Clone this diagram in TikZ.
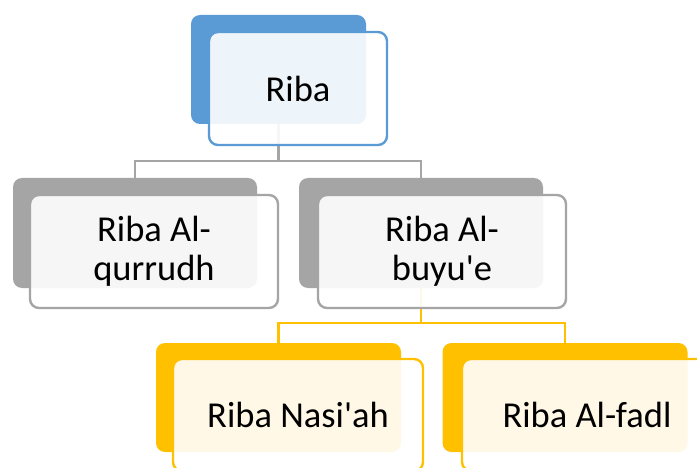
\documentclass[tikz,border=0pt]{standalone}
\usepackage{fontspec}
\setmainfont{Carlito}[Ligatures=TeXOff]
\definecolor{cblue}{HTML}{5B9BD5}
\definecolor{cgray}{HTML}{A5A5A5}
\definecolor{cyel}{HTML}{FFC000}
\tikzset{
  backbox/.style={draw=none, fill=#1, rounded corners=9pt, inner sep=0pt},
  frontbox/.style={draw=#1, line width=2.4pt, fill=white, fill opacity=0.9, draw opacity=1, text opacity=1,
     rounded corners=9pt, inner sep=0pt, align=center, font=\fontsize{36.5}{39}\selectfont},
  conn/.style={draw=#1, line width=2.4pt},
}
\begin{document}
\begin{tikzpicture}[x=1pt,y=-1pt]
\useasboundingbox (0,0) rectangle (697,468);
\fill[white] (0,0) rectangle (697,468);
% back boxes
\node[backbox=cblue, minimum width=175pt, minimum height=109pt] (b1) at (278.5,69.5) {};
\node[backbox=cgray, minimum width=244pt, minimum height=110pt] (b2) at (135,233) {};
\node[backbox=cgray, minimum width=244pt, minimum height=110pt] (b3) at (421,233) {};
\node[backbox=cyel, minimum width=245pt, minimum height=109pt] (b4) at (278.5,397.5) {};
\node[backbox=cyel, minimum width=245pt, minimum height=109pt] (b5) at (565,397.5) {};
% connectors
\coordinate (h1) at (0,161);
\coordinate (h2) at (0,323);
\draw[conn=cgray] (b1.south) -- (b1.south |- h1) -| (b2.north);
\draw[conn=cgray] (b1.south |- h1) -| (b3.north);
\draw[conn=cyel] (b3.south) -- (b3.south |- h2) -| (b4.north);
\draw[conn=cyel] (b3.south |- h2) -| (b5.north);
% front boxes
\node[frontbox=cblue, minimum width=178pt, minimum height=113pt] (f1) at (298,88.5) {Riba};
\node[frontbox=cgray, minimum width=248pt, minimum height=113pt] (f2) at (154,251.5) {Riba Al-\\qurrudh};
\node[frontbox=cgray, minimum width=248pt, minimum height=113pt] (f3) at (442,251.5) {Riba Al-\\buyu'e};
\node[frontbox=cyel, minimum width=250pt, minimum height=112pt] (f4) at (298,415) {Riba Nasi'ah};
\node[frontbox=cyel, minimum width=250pt, minimum height=112pt] (f5) at (587,415) {Riba Al-fadl};
\end{tikzpicture}
\end{document}
